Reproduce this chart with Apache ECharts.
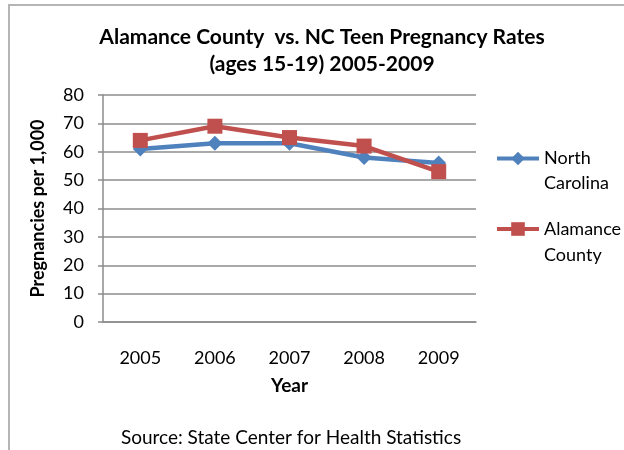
<!DOCTYPE html>
<html><head><meta charset="utf-8">
<script src="https://cdn.jsdelivr.net/npm/echarts@6/dist/echarts.min.js"></script>
<style>html,body{margin:0;padding:0;background:#fff}#c{width:624px;height:450px}</style>
</head><body><div id="c"></div>
<script>
const years = ['2005','2006','2007','2008','2009'];
const northCarolina = [61, 63, 63, 58, 56];
const alamanceCounty = [64, 69, 65, 62, 53];
const yTicks = {min: 0, max: 80, interval: 10};
const titleText = 'Alamance County  vs. NC Teen Pregnancy Rates\n(ages 15-19) 2005-2009';
const sourceText = 'Source: State Center for Health Statistics';

const FONT = 'Lato';
const chart = echarts.init(document.getElementById('c'), null, {renderer: 'canvas'});
const legendText = {fontFamily: FONT, fontSize: 18, color: '#000', lineHeight: 25};
const legendFmt = n => ' \n' + n.replace(' ', '\n');
chart.setOption({
  animation: false,
  backgroundColor: '#fff',
  graphic: [{type: 'rect', shape: {x: 9, y: 5, width: 700, height: 500}, style: {fill: 'none', stroke: '#b5b5b5', lineWidth: 2}}],
  title: [
    {text: titleText, left: 322, top: 24, textAlign: 'center', padding: 0,
     textStyle: {fontFamily: FONT, fontSize: 21, fontWeight: 'bold', color: '#000', lineHeight: 27}},
    {text: sourceText, left: 291, top: 428, textAlign: 'center', padding: 0,
     textStyle: {fontFamily: FONT, fontSize: 19, fontWeight: 'normal', color: '#000'}}
  ],
  legend: [
    {data: ['North Carolina'], left: 495, top: 121, padding: 0, itemWidth: 42, itemHeight: 17,
     formatter: legendFmt, textStyle: legendText, lineStyle: {width: 4}},
    {data: ['Alamance County'], left: 495, top: 190, padding: 0, itemWidth: 42, itemHeight: 17,
     formatter: legendFmt, textStyle: Object.assign({}, legendText, {lineHeight: 26}), lineStyle: {width: 4}}
  ],
  grid: {left: 103, right: 148, top: 95, bottom: 128, containLabel: false},
  xAxis: {
    type: 'category', data: years, boundaryGap: true,
    name: 'Year', nameLocation: 'middle', nameGap: 54,
    nameTextStyle: {fontFamily: FONT, fontSize: 19, fontWeight: 'bold', color: '#000'},
    axisLine: {lineStyle: {color: '#8c8c8c', width: 1.5}},
    axisTick: {show: false},
    axisLabel: {fontFamily: FONT, fontSize: 18, color: '#000', margin: 27}
  },
  yAxis: {
    type: 'value', min: yTicks.min, max: yTicks.max, interval: yTicks.interval,
    name: 'Pregnancies per 1,000', nameLocation: 'middle', nameGap: 56,
    nameTextStyle: {fontFamily: FONT, fontSize: 18, fontWeight: 'bold', color: '#000'},
    axisLine: {show: true, lineStyle: {color: '#8c8c8c', width: 1.5}},
    axisTick: {show: true, length: 5, lineStyle: {color: '#8c8c8c', width: 1.5}},
    splitLine: {lineStyle: {color: '#8c8c8c', width: 1.5}},
    axisLabel: {fontFamily: FONT, fontSize: 18, color: '#000', margin: 19}
  },
  series: [
    {name: 'North Carolina', type: 'line', data: northCarolina, symbol: 'diamond', symbolSize: 15,
     color: '#4F81BD', lineStyle: {width: 4.5, color: '#4F81BD'}, itemStyle: {color: '#4F81BD'}},
    {name: 'Alamance County', type: 'line', data: alamanceCounty, symbol: 'rect', symbolSize: 15,
     color: '#C0504D', lineStyle: {width: 4.5, color: '#C0504D'}, itemStyle: {color: '#C0504D'}}
  ]
});
</script></body></html>
